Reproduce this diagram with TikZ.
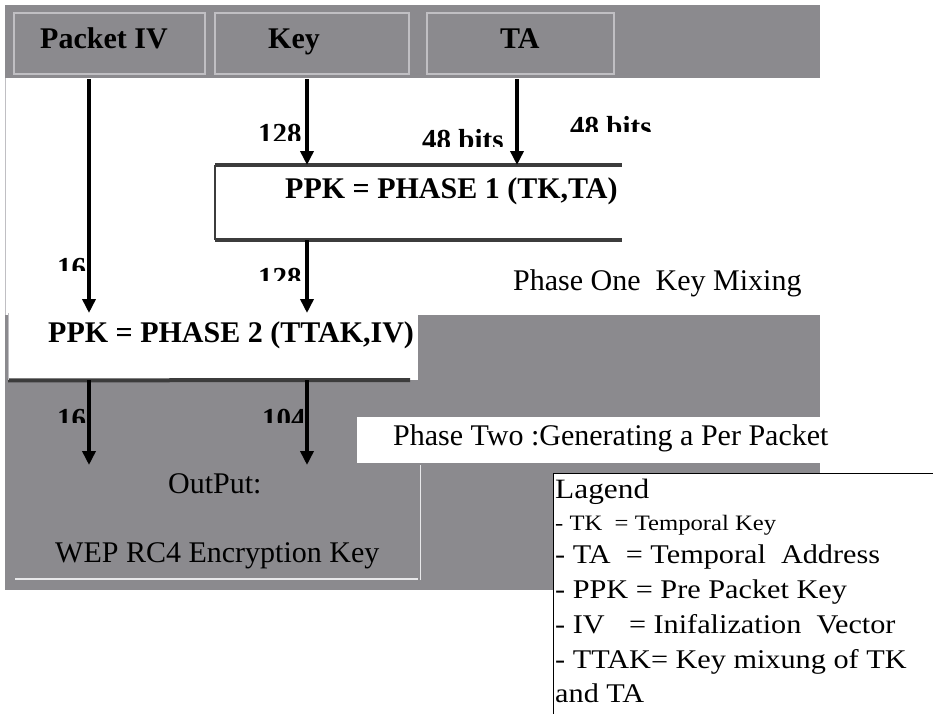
\documentclass[tikz,border=0pt]{standalone}
\usepackage{fontspec}
\setmainfont{Liberation Serif}
\newfontfamily\legfont[FakeStretch=1.12]{Liberation Serif}
\usetikzlibrary{arrows.meta}
\definecolor{panelgray}{RGB}{139,138,142}
\definecolor{edgegray}{RGB}{192,191,195}
\definecolor{darkedge}{RGB}{60,60,60}
\definecolor{paleline}{RGB}{232,232,234}
\tikzset{
  bigr/.style={font=\fontsize{30}{36}\selectfont, anchor=base west, inner sep=0pt},
  bigb/.style={font=\fontsize{30}{36}\selectfont\bfseries, anchor=base west, inner sep=0pt},
  topbox/.style={draw=edgegray, line width=2pt, fill=panelgray, minimum height=61pt, inner sep=0pt, anchor=north west},
  plain/.style={inner sep=0pt, anchor=north west},
  arr/.style={line width=4pt, -{Triangle[length=14pt,width=13pt]}},
  lbl/.style={font=\fontsize{29}{34}\selectfont\bfseries, anchor=base west, inner sep=0pt},
  leg/.style={font=\legfont\fontsize{27}{30}\selectfont, anchor=base west, inner sep=0pt},
}
\begin{document}
\begin{tikzpicture}[x=1pt,y=-1pt]
\useasboundingbox (0,0) rectangle (933,713);
\fill[white] (0,0) rectangle (933,713);
% background panels
\fill[panelgray] (5,5) rectangle (820,78);
\fill[panelgray] (5,315) rectangle (820,590);
\draw[edgegray, line width=1pt] (5,78) -- (5,315);
% top boxes
\node[topbox, minimum width=191pt] (pkt) at (13,12) {};
\node[topbox, minimum width=194pt] (key) at (214,12) {};
\node[topbox, minimum width=187pt] (ta) at (426,12) {};
\node[bigb] (pktt) at (40,48) {Packet IV};
\node[bigb] (keyt) at (268,48) {Key};
\node[bigb] (tat) at (500,48) {TA};
% phase 1 box
\node[plain, fill=white, minimum width=407pt, minimum height=75pt] (p1) at (215,165) {};
\draw[darkedge, line width=4pt] (p1.north west) -- (p1.north east);
\draw[darkedge, line width=4pt] (p1.south west) -- (p1.south east);
\draw[darkedge, line width=1.5pt] (p1.north west) -- (p1.south west);
\node[bigb] (p1t) at (285,198) {PPK = PHASE 1 (TK,TA)};
% phase one caption
\node[bigr] (ph1) at (513,290) {Phase One\ \ Key Mixing};
% phase 2 box
\node[plain, fill=white, minimum width=410pt, minimum height=67pt] (p2) at (8,313) {};
\coordinate (p2br) at (410,380);
\draw[darkedge, line width=4pt] (p2.south west) -- (p2br);
\draw[edgegray, line width=1pt] (p2.north west) -- (p2.south west);
\node[bigb] (p2t) at (48,342) {PPK = PHASE 2 (TTAK,IV)};
% phase two caption
\node[plain, fill=white, minimum width=475pt, minimum height=46pt] (ph2) at (357,417) {};
\node[bigr] (ph2t) at (393,445) {Phase Two :Generating a Per Packet};
% output box
\node[plain, fill=panelgray, minimum width=412pt, minimum height=115pt] (out) at (8,465) {};
\draw[paleline, line width=1.5pt] (out.north east) -- (out.south east);
\coordinate (outl) at (15,579);
\coordinate (outr) at (418,579);
\draw[paleline, line width=2.5pt] (outl) -- (outr);
\node[bigr] (outt1) at (168,493) {OutPut:};
\node[bigr] (outt2) at (55,562) {WEP RC4 Encryption Key};
% bit labels (bottoms cut off)
\begin{scope}
  \clip (250,110) rectangle (302,140);
  \node[lbl] (b1) at (258,143) {128};
\end{scope}
\begin{scope}
  \clip (415,115) rectangle (512,146);
  \node[lbl] (b2) at (422,149) {48 bits};
\end{scope}
\begin{scope}
  \clip (560,100) rectangle (665,131);
  \node[lbl] (b3) at (570,136) {48 bits};
\end{scope}
\begin{scope}
  \clip (50,245) rectangle (85,270);
  \node[lbl] (b4) at (57,277) {16};
\end{scope}
\begin{scope}
  \clip (250,255) rectangle (302,280);
  \node[lbl] (b5) at (258,287) {128};
\end{scope}
\begin{scope}
  \clip (50,395) rectangle (85,422);
  \node[lbl] (b6) at (57,428) {16};
\end{scope}
\begin{scope}
  \clip (255,395) rectangle (302,422);
  \node[lbl] (b7) at (262,428) {104};
\end{scope}
% arrows
\draw[arr, shorten <=4pt] (pkt.south -| 89,0) -- (p2.north -| 89,0);
\draw[arr, shorten <=4pt] (key.south -| 307,0) -- (p1.north -| 307,0);
\draw[arr, shorten <=4pt] (ta.south -| 517,0) -- (p1.north -| 517,0);
\draw[arr] (p1.south -| 307,0) -- (p2.north -| 307,0);
\draw[arr] (p2.south -| 89,0) -- (out.north -| 89,0);
\draw[arr] (p2.south -| 307,0) -- (out.north -| 307,0);
% legend
\node[plain, draw=black, line width=1.3pt, fill=white, minimum width=400pt, minimum height=260pt] (leg) at (553,473) {};
\node[leg, font=\legfont\fontsize{28}{30}\selectfont] (lg1) at (555,498) {Lagend};
\node[leg, font=\legfont\fontsize{22}{26}\selectfont] (lg2) at (555,530) {- TK\ \ = Temporal Key};
\node[leg] (lg3) at (555,563) {- TA\ \ = Temporal\ \ Address};
\node[leg] (lg4) at (555,598) {- PPK = Pre Packet Key};
\node[leg] (lg5) at (555,633) {- IV\hspace{0.9em}= Inifalization\ \ Vector};
\node[leg] (lg6) at (555,668) {- TTAK= Key mixung of TK};
\node[leg] (lg7) at (555,702) {and TA};
\end{tikzpicture}
\end{document}
